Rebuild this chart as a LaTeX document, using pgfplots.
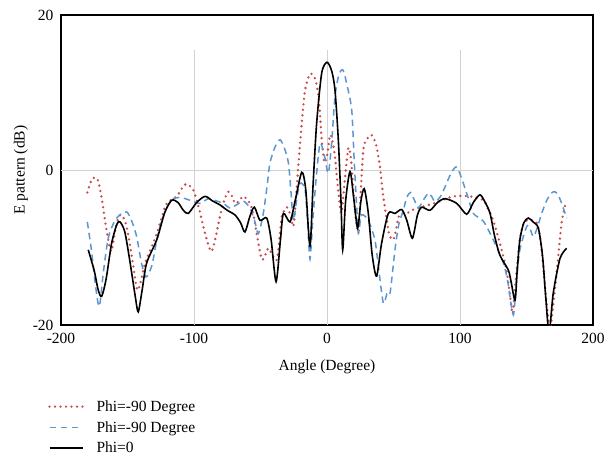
\documentclass[border=0pt]{standalone}
\usepackage{fontspec}
\setmainfont{Liberation Serif}
\usepackage{pgfplots}
\pgfplotsset{compat=1.18}
\definecolor{dotred}{RGB}{200,75,72}
\definecolor{dashblue}{RGB}{91,150,210}
\definecolor{gridgray}{RGB}{210,210,210}

\begin{document}
\begin{tikzpicture}[font=\fontsize{15.5}{18}\selectfont]
\begin{axis}[
  scale only axis,
  width=532pt, height=310pt,
  xmin=-200, xmax=200, ymin=-20, ymax=20,
  xtick={-200,-100,0,100,200},
  ytick={-20,0,20},
  major tick length=0pt,
  axis line style={line width=1.2pt, black},
  xlabel={Angle (Degree)},
  ylabel={E pattern (dB)},
  label style={font=\fontsize{15.5}{18}\selectfont},
  xlabel style={yshift=-9pt},
  ylabel style={yshift=-2pt},
  tick label style={font=\fontsize{15.5}{18}\selectfont,
    /pgf/number format/assume math mode=true},
  yticklabel style={xshift=-4pt},
  xticklabel style={yshift=-5pt},
  clip=true,
  legend cell align=left,
  legend style={at={(axis description cs:-0.03,-0.23)}, anchor=north west,
    draw=none, fill=none, row sep=4.5pt, font=\fontsize{15.5}{18}\selectfont},
  legend image code/.code={\draw[#1] (0pt,0pt) -- (33pt,0pt);
    \path[draw=none] (0pt,0pt) -- (45pt,0pt);},
]
% grid lines
\addplot[gridgray, line width=0.8pt, forget plot] coordinates {(-200,0)(200,0)};
\addplot[gridgray, line width=0.8pt, forget plot] coordinates {(-100,15.5)(-100,-20)};
\addplot[gridgray, line width=0.8pt, forget plot] coordinates {(0,15.5)(0,-20)};
\addplot[gridgray, line width=0.8pt, forget plot] coordinates {(100,15.5)(100,-20)};

% Phi=-90 (dotted)
\addplot[dotred, line width=2.6pt, line cap=round, dash pattern=on 0pt off 5.5pt, smooth, tension=0.45] coordinates {
(-180.2,-2.9)(-176.5,-1.1)(-172.5,-1.2)(-169.5,-3.5)(-166.9,-6.5)(-164,-9.5)(-162,-10.5)
(-160,-8.5)(-157,-6.2)(-154.4,-5.8)(-151.5,-6.8)(-149.4,-8.4)(-146,-12)(-142.6,-15.5)
(-139.5,-14)(-136.8,-12)(-132,-10)(-128,-8.2)(-124,-6)(-120.5,-4.3)(-113,-3.4)
(-108.5,-2.2)(-105.5,-1.8)(-100.5,-2.6)(-96.5,-4.8)(-93,-7.3)(-89.5,-9.5)(-86.7,-10.5)
(-83.5,-8.5)(-80.5,-6)(-77,-3.8)(-74.2,-2.8)(-71,-3.5)(-69.2,-4.3)(-66,-4)(-62.9,-3.4)
(-57.9,-4.3)(-55,-6)(-52.9,-8.2)(-49.1,-11.5)(-46.5,-11)(-44.1,-10.1)(-41,-11)(-37.8,-11.6)
(-35.5,-8.5)(-34,-6)(-30.3,-4.8)(-27.5,-5.8)(-25.3,-7.3)(-23.5,-4)(-21.6,0.4)(-19,6)
(-16.5,10.3)(-12.8,12.4)(-9,11.8)(-6.5,9.7)(-5,6.5)(-4,3.9)(-2,1)(0,1.8)(2.3,4.5)(4,3.8)
(6,1.7)(8,-2)(9.8,-4.7)(11,-5.5)(13,-2)(16,2.8)(18,1.5)(20,-3)(21.5,-6)(23.6,-8)(25,-4)
(27.3,2.6)(30,4)(33.6,4.5)(37,3.2)(39.8,0.4)(42,-3)(44.9,-6.4)(47,-8.5)(49.8,-9)(51.5,-8)
(54,-6)(57,-5.6)(61,-5.5)(66,-5)(70.4,-4.8)(80.4,-4.3)(95,-3.4)(107.5,-3.4)(117.5,-3.9)
(121,-5)(125,-6.5)(131.3,-10.3)(135,-13)(137.5,-16)(139.6,-18.5)(142,-14)(145,-9)
(147.5,-7)(150.1,-6.5)(154,-6.5)(157.6,-6.8)(160,-8.5)(162.6,-12.4)(165,-17)(167.7,-20.5)
(170,-17.5)(172.7,-13.2)(176.4,-6.8)(179.7,-4.1)
};
\addlegendentry{Phi=-90 Degree}

% Phi=-90 (dashed)
\addplot[dashblue, line width=1.5pt, dash pattern=on 6.5pt off 4.5pt, smooth, tension=0.45] coordinates {
(-180.2,-6.7)(-177,-10.5)(-174,-15)(-171.2,-17.6)(-168,-13)(-164.4,-8.7)(-159.4,-6.5)
(-155,-5.7)(-150.6,-5.4)(-147,-6.5)(-143.1,-8.6)(-139.5,-12)(-136.1,-13.8)(-131.8,-12.4)
(-128.5,-9.5)(-125.6,-7.3)(-121,-5)(-115.6,-3.7)(-109,-3.6)(-103,-3.9)(-95.5,-4.3)
(-89.2,-3.7)(-83,-4)(-78,-4.3)(-73,-4.9)(-68,-4.5)(-62.9,-4)(-57.9,-4.9)(-54.5,-6.5)
(-51.6,-8.2)(-47.9,-5.6)(-45,-2)(-42.9,0.9)(-39,3)(-35.3,3.9)(-32,2.8)(-29,0.9)(-27,-3)
(-25.3,-6.5)(-22.5,-3.5)(-20.3,-1.7)(-16.5,-2.5)(-14.5,-7)(-12.8,-11.5)(-10.5,-6)
(-7.8,-0.4)(-5.3,3.4)(-3,2.6)(-1.5,1.5)(1,-0.4)(3.5,3.5)(6,9.5)(9,12.3)(12,12.9)(15,11)
(18.6,7.7)(20.5,1)(22.3,-4.7)(23.6,-8.2)(25.5,-6)(27.3,-5.8)(31,-6.5)(36,-9)(39,-13)
(42.4,-17.2)(45,-16)(47.4,-15.9)(51.1,-10.3)(54,-7)(57.4,-5.2)(60,-3.5)(62.9,-2.9)
(65.5,-3.8)(68.7,-4.9)(72,-4)(76.2,-3)(79,-3.5)(81.2,-4.1)(85,-3.5)(88.7,-2.2)(93,-0.5)
(97,0.4)(100,-0.5)(102.5,-1.7)(106,-3.5)(110,-5.6)(117.5,-6.6)(125,-9)(132.6,-12)
(136,-14.5)(140.1,-18.7)(142.5,-14)(145,-10.3)(150.1,-7.3)(152.5,-7.5)(155.1,-8.6)
(158,-7.5)(161.4,-5.6)(165,-4)(168.5,-3)(171.4,-2.8)(174,-3.3)(176.4,-4.3)(180.2,-6.2)
};
\addlegendentry{Phi=-90 Degree}

% Phi=0 (solid)
\addplot[black, line width=1.6pt, smooth, tension=0.45] coordinates {
(-179.5,-10.3)(-175,-13)(-172,-15.5)(-169.4,-16.3)(-166,-14)(-162,-9.5)(-158,-7)
(-155.6,-6.7)(-152,-8)(-148,-12)(-144,-16.5)(-141.9,-18.3)(-139,-15.5)(-135.6,-12)
(-128,-9)(-122,-5.5)(-116.8,-3.9)(-112,-4.2)(-108,-5.2)(-104.3,-5.6)(-98,-4.2)(-91.7,-3.4)
(-86,-4)(-80.5,-4.5)(-75,-5.2)(-69.2,-5.8)(-65,-6.8)(-61.7,-8)(-58,-6)(-54.6,-4.8)
(-50.4,-6.5)(-45.3,-6.2)(-42,-9)(-38.3,-14.4)(-35,-9)(-32.8,-5.6)(-27.8,-6.7)(-24,-4)
(-19,-0.3)(-16,-2.5)(-12.8,-9.8)(-10.5,-2)(-7.8,6)(-4,12.5)(0,13.9)(3.5,12.8)(6,10.3)
(8.5,3.9)(10.5,-4)(11.8,-10.3)(14,-4)(17.3,-0.2)(20,-3.5)(23,-7.5)(25.5,-4)(28,-2.4)
(31,-5.5)(34,-11)(37.3,-13.7)(41,-9.5)(46.1,-5.6)(51.1,-5.6)(56.2,-5.1)(60,-6.5)
(64.2,-8.8)(68,-5.8)(71.2,-4.8)(77.4,-5.2)(83,-4.2)(88.7,-3.7)(97.5,-4.3)(105,-5.7)
(110,-4.2)(115,-3.2)(119,-4.2)(122.6,-5.6)(126,-8.5)(130,-11)(136.3,-12.9)(138.5,-14.5)
(141.4,-16.8)(143,-13)(145,-9)(148,-6.8)(151.4,-6.2)(155,-6.7)(158.9,-7.5)(162,-11)
(164.5,-16.5)(167,-21)(170.1,-15.9)(175.2,-11.4)(180.2,-10.1)
};
\addlegendentry{Phi=0}
\end{axis}
\path (current axis.south west) ++(-61pt,-135pt) coordinate (bbsw);
\path (current axis.north east) ++(20pt,15pt) coordinate (bbne);
\path (bbsw) rectangle (bbne);
\end{tikzpicture}
\end{document}
